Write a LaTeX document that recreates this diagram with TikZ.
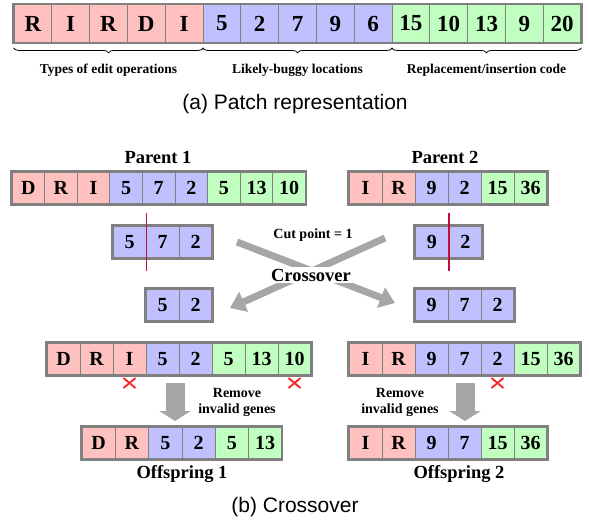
\documentclass[tikz,border=0pt]{standalone}
\usepackage{fontspec}
\setmainfont{Liberation Serif}
\newfontfamily\sansf{Liberation Sans}
\usetikzlibrary{arrows.meta,decorations.pathreplacing}
\definecolor{pk}{HTML}{FFC0C0}
\definecolor{bl}{HTML}{C0C0FF}
\definecolor{gr}{HTML}{C0FFC0}
\definecolor{bd}{HTML}{808080}
\definecolor{ar}{HTML}{A6A6A6}
\definecolor{cutc}{HTML}{C0103A}
\definecolor{xred}{HTML}{FF2020}
\tikzset{
  cell/.style={draw=bd, line width=0.8pt, inner sep=0pt},
  outerbox/.style={draw=bd, line width=2.4pt},
  lab/.style={font=\bfseries\fontsize{13.5}{14}\selectfont, inner sep=1pt},
  title/.style={font=\bfseries\fontsize{18.5}{20}\selectfont, inner sep=1pt},
  caption/.style={font=\sansf\fontsize{21}{24}\selectfont, inner sep=1pt},
  cutline/.style={draw=cutc, line width=1.5pt},
  bigarrow/.style={draw=ar, line width=7pt, -{Triangle[width=21pt,length=15pt]}},
  downarrow/.style={draw=ar, line width=19pt, -{Triangle[width=31pt,length=10pt]}},
  xmark/.style={draw=xred, line width=1.8pt},
  bracestyle/.style={draw=black, line width=0.8pt, decorate, decoration={brace, mirror, amplitude=5pt}},
}
\newcommand{\GeneRow}[8]{%
  \foreach \lbl/\clr [count=\i] in {#8} {
    \node[cell, fill=\clr, minimum width=#4pt, minimum height=#5pt,
          font=\bfseries\fontsize{#6}{#6}\selectfont] (#1-\i) at ({#2+(\i-0.5)*#4}, #3) {\lbl};
  }
  \draw[outerbox] (#1-1.north west) rectangle (#1-#7.south east);
}
\newcommand{\XMark}[2]{%
  \coordinate (#1) at #2;
  \draw[xmark] ([xshift=-6pt,yshift=5pt]#1) -- ([xshift=6pt,yshift=-5pt]#1);
  \draw[xmark] ([xshift=-6pt,yshift=-5pt]#1) -- ([xshift=6pt,yshift=5pt]#1);
}
\begin{document}
\begin{tikzpicture}[x=1pt,y=-1pt]
\useasboundingbox[fill=white] (0,0) rectangle (589,520);

% (a) patch representation
\GeneRow{t}{14}{23.5}{37.8}{38}{23}{15}{R/pk,I/pk,R/pk,D/pk,I/pk,5/bl,2/bl,7/bl,9/bl,6/bl,15/gr,10/gr,13/gr,9/gr,20/gr}
\draw[bracestyle] ([yshift=-5pt]t-1.south west) -- ([yshift=-5pt]t-5.south east);
\draw[bracestyle] ([yshift=-5pt]t-6.south west) -- ([yshift=-5pt]t-10.south east);
\draw[bracestyle] ([yshift=-5pt]t-11.south west) -- ([yshift=-5pt]t-15.south east);
\node[lab] (l1) at (108.5,70) {Types of edit operations};
\node[lab] (l2) at (297.5,70) {Likely-buggy locations};
\node[lab] (l3) at (486.5,70) {Replacement/insertion code};
\node[caption] (capa) at (295,104) {(a) Patch representation};

% (b) crossover
\node[title] (par1) at (158,157) {Parent 1};
\node[title] (par2) at (445,157) {Parent 2};
\GeneRow{p}{12}{188}{32.6}{32}{20}{9}{D/pk,R/pk,I/pk,5/bl,7/bl,2/bl,5/gr,13/gr,10/gr}
\GeneRow{q}{349}{188}{33}{32}{20}{6}{I/pk,R/pk,9/bl,2/bl,15/gr,36/gr}

\GeneRow{s}{113}{242}{33}{32}{20}{3}{5/bl,7/bl,2/bl}
\GeneRow{u}{415}{242}{33.5}{32}{20}{2}{9/bl,2/bl}
\draw[cutline] ([yshift=13pt]s-1.north east) -- ([yshift=-13pt]s-1.south east);
\draw[cutline] ([yshift=13pt]u-1.north east) -- ([yshift=-13pt]u-1.south east);

\GeneRow{c}{146}{305}{33}{32}{20}{2}{5/bl,2/bl}
\GeneRow{d}{415}{305}{33}{32}{20}{3}{9/bl,7/bl,2/bl}

\coordinate (ca1) at (237,242);
\coordinate (cb1) at (395,303);
\coordinate (ca2) at (385,238);
\coordinate (cb2) at (230,308);
\draw[bigarrow] (ca1) -- (cb1);
\draw[bigarrow] (ca2) -- (cb2);
\node[font=\bfseries\fontsize{14}{15}\selectfont, inner sep=1pt] (cutlbl) at (313,235) {Cut point = 1};
\node[font=\bfseries\fontsize{18.5}{20}\selectfont, fill=white, inner sep=1.5pt] (cross) at (311,275) {Crossover};

\GeneRow{i}{47}{359}{33}{32}{20}{8}{D/pk,R/pk,I/pk,5/bl,2/bl,5/gr,13/gr,10/gr}
\GeneRow{j}{349}{359}{33}{32}{20}{7}{I/pk,R/pk,9/bl,7/bl,2/bl,15/gr,36/gr}
\XMark{x1}{(129.5,383)}
\XMark{x2}{(294.5,383)}
\XMark{x3}{(497.5,383)}

\coordinate (da1) at (175,383);
\coordinate (db1) at (175,421);
\coordinate (da2) at (465,383);
\coordinate (db2) at (465,421);
\draw[downarrow] (da1) -- (db1);
\draw[downarrow] (da2) -- (db2);
\node[font=\bfseries\fontsize{14}{16}\selectfont, align=center, inner sep=1pt] (rm1) at (237,402) {Remove\\invalid genes};
\node[font=\bfseries\fontsize{14}{16}\selectfont, align=center, inner sep=1pt] (rm2) at (400,402) {Remove\\invalid genes};

\GeneRow{o}{82}{443}{33.3}{32}{20}{6}{D/pk,R/pk,5/bl,2/bl,5/gr,13/gr}
\GeneRow{r}{349}{443}{33}{32}{20}{6}{I/pk,R/pk,9/bl,7/bl,15/gr,36/gr}
\node[title] (off1) at (182,474) {Offspring 1};
\node[title] (off2) at (459,474) {Offspring 2};
\node[caption] (capb) at (295,507) {(b) Crossover};
\end{tikzpicture}
\end{document}
